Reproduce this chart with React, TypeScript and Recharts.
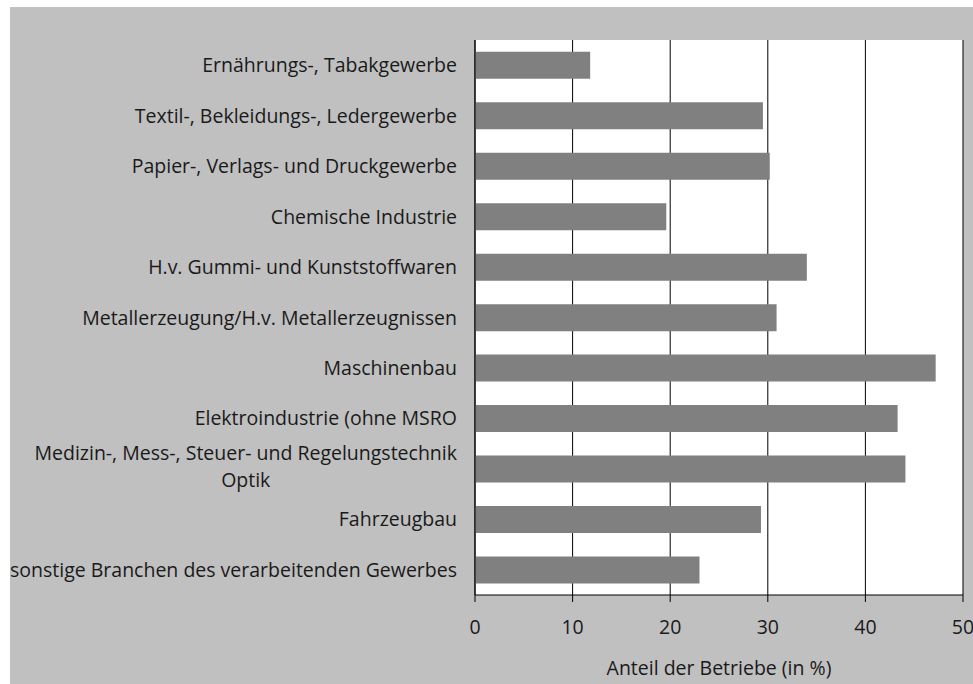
import { BarChart, Bar, XAxis, YAxis, CartesianGrid } from 'recharts';

const branches = [
  'Ernährungs-, Tabakgewerbe',
  'Textil-, Bekleidungs-, Ledergewerbe',
  'Papier-, Verlags- und Druckgewerbe',
  'Chemische Industrie',
  'H.v. Gummi- und Kunststoffwaren',
  'Metallerzeugung/H.v. Metallerzeugnissen',
  'Maschinenbau',
  'Elektroindustrie (ohne MSRO',
  'Medizin-, Mess-, Steuer- und Regelungstechnik Optik',
  'Fahrzeugbau',
  'sonstige Branchen des verarbeitenden Gewerbes',
];

// Anteil der Betriebe in %
const shares = [11.8, 29.5, 30.2, 19.6, 34.0, 30.9, 47.2, 43.3, 44.1, 29.3, 23.0];

const xTicks = [0, 10, 20, 30, 40, 50];

const data = branches.map((name, i) => ({ name, share: shares[i] }));

const FONT = '"Open Sans", sans-serif';
const FONT_SIZE = 19.5;
const TEXT = '#1a1a1a';
const LINE = '#000';

let ctx: CanvasRenderingContext2D | null = null;
function measure(s: string) {
  if (!ctx) ctx = document.createElement('canvas').getContext('2d');
  if (!ctx) return s.length * 9.5;
  ctx.font = `${FONT_SIZE}px ${FONT}`;
  return ctx.measureText(s).width;
}

function wrap(label: string, maxWidth: number) {
  const lines: string[] = [];
  let cur = '';
  for (const w of label.split(' ')) {
    const next = cur ? cur + ' ' + w : w;
    if (cur && measure(next) > maxWidth) {
      lines.push(cur);
      cur = w;
    } else {
      cur = next;
    }
  }
  if (cur) lines.push(cur);
  return lines;
}

function BranchTick({ x, y, payload }: any) {
  const lines = wrap(payload.value, 455);
  const style = { fontFamily: FONT, fontSize: FONT_SIZE, fill: TEXT };
  if (lines.length === 1) {
    return (
      <text x={x} y={y} dy="0.36em" textAnchor="end" style={style}>
        {payload.value}
      </text>
    );
  }
  // multi-line labels: centred block, right-aligned as a whole
  const blockW = Math.max(...lines.map(measure));
  const cx = x - blockW / 2;
  const lh = 27;
  return (
    <text textAnchor="middle" style={style}>
      {lines.map((l, i) => (
        <tspan key={i} x={cx} y={y - 2.5 + (i - (lines.length - 1) / 2) * lh} dy="0.36em">
          {l}
        </tspan>
      ))}
    </text>
  );
}

function AxisTitle({ viewBox }: any) {
  return (
    <text
      x={viewBox.x + viewBox.width / 2}
      y={viewBox.y + 72.5}
      dy="0.36em"
      textAnchor="middle"
      style={{ fontFamily: FONT, fontSize: FONT_SIZE, fill: TEXT }}
    >
      Anteil der Betriebe (in %)
    </text>
  );
}

export default function App() {
  return (
    <div style={{ position: 'fixed', left: 0, top: 0, width: 973, height: 684, overflow: 'hidden', background: '#fff' }}>
      <div style={{ position: 'absolute', left: 10, top: 7, width: 983, height: 690, background: '#c0c0c0' }}>
        <BarChart
          width={983}
          height={690}
          data={data}
          layout="vertical"
          margin={{ top: 33, right: 30, left: 0, bottom: 22 }}
          barCategoryGap="23.5%"
        >
          <CartesianGrid horizontal={false} stroke={LINE} fill="#fff" fillOpacity={1} />
          <XAxis
            type="number"
            domain={[0, 50]}
            ticks={xTicks}
            interval={0}
            height={80}
            tickSize={7}
            tickMargin={18}
            axisLine={{ stroke: LINE }}
            tickLine={{ stroke: LINE }}
            tick={{ fill: TEXT, fontSize: FONT_SIZE, fontFamily: FONT }}
            label={<AxisTitle />}
          />
          <XAxis
            xAxisId="top"
            orientation="top"
            type="number"
            domain={[0, 50]}
            height={0}
            tick={false}
            tickLine={false}
            axisLine={{ stroke: LINE }}
          />
          <YAxis
            type="category"
            dataKey="name"
            width={465}
            interval={0}
            tickSize={0}
            tickLine={false}
            tickMargin={18}
            axisLine={{ stroke: LINE }}
            tick={<BranchTick />}
          />
          <Bar dataKey="share" fill="#808080" isAnimationActive={false} />
        </BarChart>
      </div>
    </div>
  );
}
